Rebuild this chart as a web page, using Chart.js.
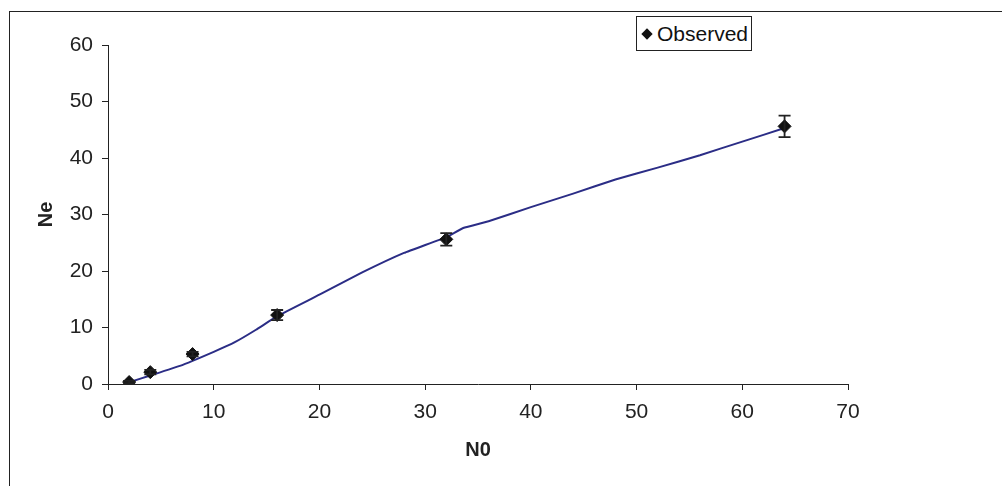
<!DOCTYPE html>
<html>
<head>
<meta charset="utf-8">
<script src="https://cdn.jsdelivr.net/npm/chart.js@4"></script>
<style>
    html, body { margin: 0; padding: 0; background: #fff; overflow: hidden; }
    #wrap { position: relative; width: 1002px; height: 486px; }
    #frame {
        position: absolute; left: 9px; top: 11px; width: 1200px; height: 700px;
        border-left: 1px solid #222; border-top: 1px solid #222;
    }
    #legend {
        position: absolute; left: 636px; top: 16px; width: 114px; height: 33px;
        border: 1px solid #222; background: #fff;
        font-family: "Liberation Sans", Arial, sans-serif; font-size: 21px; color: #111;
        line-height: 33px; white-space: nowrap;
    }
    #legend .mark {
        display: inline-block; width: 8px; height: 8px; background: #111;
        transform: rotate(45deg); margin: 0 6px 2px 6px; vertical-align: middle;
    }
</style>
</head>
<body>
<div id="wrap">
    <div id="frame"></div>
    <canvas id="myChart" width="1002" height="486"></canvas>
    <div id="legend"><span class="mark"></span>Observed</div>
</div>
<script>
const nValues = [2, 4, 8, 16, 32, 64];
const observedNe = [0.35, 2.1, 5.3, 12.2, 25.6, 45.6];
const observedErr = [0.2, 0.4, 0.4, 0.9, 1.1, 1.9];

// fitted / model curve
const modelN = [2, 4, 6.8, 10, 12, 14, 16, 20, 24, 28, 32, 33.6, 36, 40, 44, 48, 52, 56, 60, 64];
const modelNe = [0.3, 1.5, 3.2, 5.7, 7.4, 9.6, 12.0, 15.8, 19.7, 23.2, 26.0, 27.6, 28.8, 31.3, 33.7, 36.2, 38.3, 40.5, 42.9, 45.3];

const xTicks = [0, 10, 20, 30, 40, 50, 60, 70];
const yTicks = [0, 10, 20, 30, 40, 50, 60];

document.addEventListener("DOMContentLoaded", function () {

    // error bars for the observed series
    const errorBars = {
        id: 'errorBars',
        afterDatasetsDraw(chart) {
            const ctx = chart.ctx;
            const xs = chart.scales.x, ys = chart.scales.y;
            ctx.save();
            ctx.strokeStyle = '#222';
            ctx.lineWidth = 1.8;
            nValues.forEach((n, i) => {
                const px = xs.getPixelForValue(n);
                const top = ys.getPixelForValue(observedNe[i] + observedErr[i]);
                const bot = ys.getPixelForValue(observedNe[i] - observedErr[i]);
                ctx.beginPath();
                ctx.moveTo(px, top); ctx.lineTo(px, bot);
                ctx.moveTo(px - 6, top); ctx.lineTo(px + 6, top);
                ctx.moveTo(px - 6, bot); ctx.lineTo(px + 6, bot);
                ctx.stroke();
            });
            ctx.restore();
        }
    };

    const tickFont = { family: '"Liberation Sans", Arial, sans-serif', size: 21 };
    const titleFont = { family: '"Liberation Sans", Arial, sans-serif', size: 20, weight: 'bold' };

    const ctx = document.getElementById('myChart').getContext('2d');
    new Chart(ctx, {
        type: 'scatter',
        data: {
            datasets: [{
                label: 'Observed',
                data: nValues.map((n, i) => ({ x: n, y: observedNe[i] })),
                showLine: false,
                pointStyle: 'rectRot',
                pointRadius: 6.5,
                backgroundColor: '#111',
                borderColor: '#111',
                borderWidth: 1,
                order: 0
            }, {
                label: 'Model',
                data: modelN.map((n, i) => ({ x: n, y: modelNe[i] })),
                showLine: true,
                pointRadius: 0,
                borderColor: '#2b2d86',
                borderWidth: 2,
                tension: 0.1,
                order: 1
            }]
        },
        options: {
            responsive: false,
            animation: false,
            layout: { padding: { top: 45, right: 154, bottom: 0, left: 0 } },
            plugins: {
                legend: { display: false },
                tooltip: { enabled: false }
            },
            scales: {
                x: {
                    type: 'linear',
                    min: 0, max: 70,
                    afterBuildTicks: s => { s.ticks = xTicks.map(v => ({ value: v })); },
                    afterFit: s => { s.height = 102; },
                    grid: { drawOnChartArea: false, drawTicks: true, tickLength: 6, color: '#222' },
                    border: { display: true, color: '#222', width: 1 },
                    ticks: { color: '#222', font: tickFont, padding: 10, maxRotation: 0 },
                    title: { display: true, text: 'N0', color: '#222', font: titleFont, padding: { top: 0, bottom: 24 } }
                },
                y: {
                    type: 'linear',
                    min: 0, max: 60,
                    afterBuildTicks: s => { s.ticks = yTicks.map(v => ({ value: v })); },
                    afterFit: s => { s.width = 108; },
                    grid: { drawOnChartArea: false, drawTicks: true, tickLength: 6, color: '#222' },
                    border: { display: true, color: '#222', width: 1 },
                    ticks: { color: '#222', font: tickFont, padding: 9 },
                    title: { display: true, text: 'Ne', color: '#222', font: titleFont, padding: { top: 34, bottom: 0 } }
                }
            }
        },
        plugins: [errorBars]
    });
});
</script>
</body>
</html>
